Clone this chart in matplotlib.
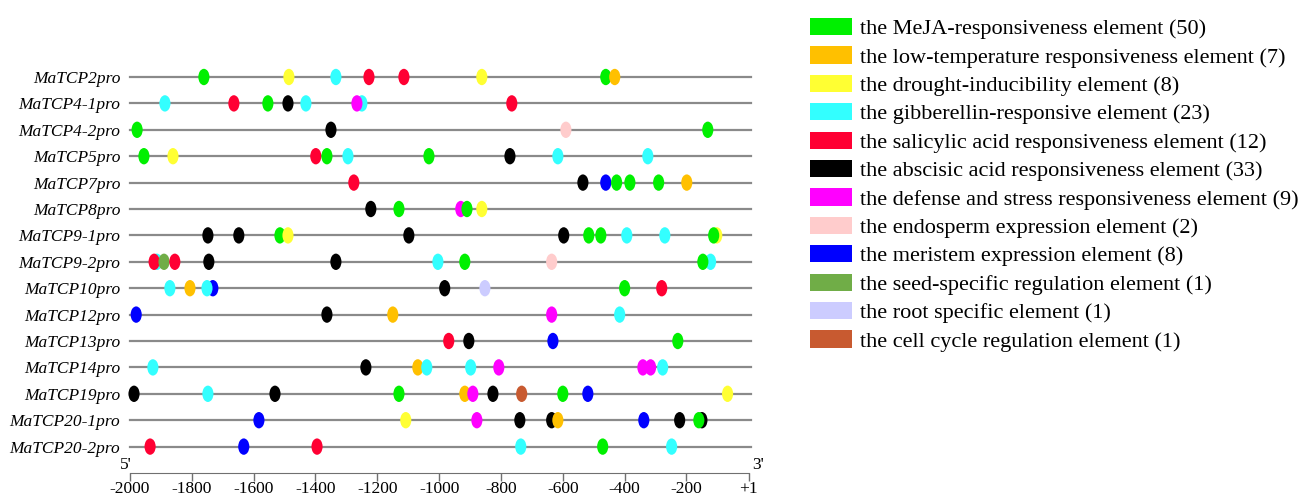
import matplotlib
matplotlib.use('Agg')
import matplotlib.pyplot as plt
from matplotlib.patches import Ellipse, Patch

plt.rcParams['font.family'] = ['Liberation Serif', 'DejaVu Serif']

promoters = ['MaTCP2pro', 'MaTCP4-1pro', 'MaTCP4-2pro', 'MaTCP5pro', 'MaTCP7pro',
             'MaTCP8pro', 'MaTCP9-1pro', 'MaTCP9-2pro', 'MaTCP10pro', 'MaTCP12pro',
             'MaTCP13pro', 'MaTCP14pro', 'MaTCP19pro', 'MaTCP20-1pro', 'MaTCP20-2pro']

element_names = ['the MeJA-responsiveness element', 'the low-temperature responsiveness element',
                 'the drought-inducibility element', 'the gibberellin-responsive element',
                 'the salicylic acid responsiveness element', 'the abscisic acid responsiveness element',
                 'the defense and stress responsiveness element', 'the endosperm expression element',
                 'the meristem expression element', 'the seed-specific regulation element',
                 'the root specific element', 'the cell cycle regulation element']
element_counts = [50, 7, 8, 23, 12, 33, 9, 2, 8, 1, 1, 1]
element_colors = ['#00f000', '#ffc000', '#ffff33', '#33ffff', '#ff0033', '#000000',
                  '#ff00ff', '#ffcccc', '#0000ff', '#70ad47', '#ccccff', '#c85a30']

# element type codes: index into element_names (listed in drawing order)
site_pos = [
    [-1761, -1486, -1334, -1227, -1114, -862, -461, -432],
    [-1887, -1664, -1554, -1489, -1431, -1250, -1266, -765],
    [-1977, -1350, -590, -131],
    [-1955, -1861, -1399, -1363, -1295, -1033, -771, -616, -325],
    [-1276, -535, -461, -426, -383, -290, -199],
    [-1221, -1130, -930, -910, -862],
    [-1748, -1648, -1515, -1489, -1098, -597, -516, -477, -393, -270, -102, -112],
    [-1913, -1922, -1890, -1855, -1745, -1334, -1004, -917, -636, -122, -147],
    [-1871, -1806, -1732, -1751, -982, -852, -400, -280],
    [-1980, -1363, -1150, -636, -416],
    [-969, -904, -632, -228],
    [-1926, -1237, -1069, -1040, -898, -807, -341, -316, -277],
    [-1987, -1748, -1531, -1130, -917, -891, -826, -733, -600, -519, -67],
    [-1583, -1108, -878, -739, -636, -616, -338, -222, -150, -160],
    [-1935, -1632, -1395, -736, -471, -248],
]
site_type = [
    [0, 2, 3, 4, 4, 2, 0, 1],
    [3, 4, 0, 5, 3, 3, 6, 4],
    [0, 5, 7, 0],
    [0, 2, 4, 0, 3, 0, 5, 3, 3],
    [4, 5, 8, 0, 0, 0, 1],
    [5, 0, 6, 0, 2],
    [5, 5, 0, 2, 5, 5, 0, 0, 3, 3, 2, 0],
    [3, 4, 9, 4, 5, 5, 3, 0, 7, 3, 0],
    [3, 1, 8, 3, 5, 10, 0, 4],
    [8, 5, 1, 6, 3],
    [4, 5, 8, 0],
    [3, 5, 1, 3, 3, 6, 6, 6, 3],
    [5, 3, 5, 0, 1, 6, 5, 11, 0, 8, 2],
    [8, 2, 6, 5, 5, 1, 8, 5, 5, 0],
    [4, 8, 4, 3, 0, 3],
]

tick_vals = [-2000, -1800, -1600, -1400, -1200, -1000, -800, -600, -400, -200, 1]
tick_text = ['-2000', '-1800', '-1600', '-1400', '-1200', '-1000', '-800', '-600', '-400', '-200', '+1']

W, H = 1301, 497
fig = plt.figure(figsize=(W / 100, H / 100), dpi=100)
x0, x1 = 130, 748.6
y_top, y_bot = 50.6, 473
ax = fig.add_axes([x0 / W, 1 - y_bot / H, (x1 - x0) / W, (y_bot - y_top) / H])
ax.set_xlim(-2000, 1)
ax.set_ylim(15, -1)

for i, name in enumerate(promoters):
    ax.plot([-2000, 8], [i, i], color='#8a8a8a', lw=1.6, zorder=1, clip_on=False)
    for pos, t in zip(site_pos[i], site_type[i]):
        ax.add_patch(Ellipse((pos, i), width=36, height=0.62, facecolor=element_colors[t],
                             edgecolor='none', zorder=2, clip_on=False))

ax.set_yticks(range(len(promoters)))
ax.set_yticklabels(promoters, fontsize=12.5, style='italic')
ax.tick_params(axis='y', length=0, pad=7)
ax.set_xticks(tick_vals)
ax.set_xticklabels(tick_text, fontsize=12.5)
ax.tick_params(axis='x', length=6, width=1, color='#707070', pad=0)
for s in ['left', 'right', 'top']:
    ax.spines[s].set_visible(False)
ax.spines['bottom'].set_bounds(-2000, 1)
ax.spines['bottom'].set_color('#707070')
ax.text(-1993, 15.0, "5'", fontsize=12.5, ha='right', va='bottom')
ax.text(12, 15.0, "3'", fontsize=12.5, ha='left', va='bottom')

handles = [Patch(facecolor=c, edgecolor='none') for c in element_colors]
labels = ['%s (%d)' % (n, c) for n, c in zip(element_names, element_counts)]
fig.legend(handles, labels, loc='upper left', bbox_to_anchor=(810 / W, 1 - 18 / H),
           frameon=False, fontsize=16, handlelength=1.89, handleheight=0.81,
           handletextpad=0.36, labelspacing=0.32, borderaxespad=0, borderpad=0)

fig.savefig('out.png', dpi=100)
